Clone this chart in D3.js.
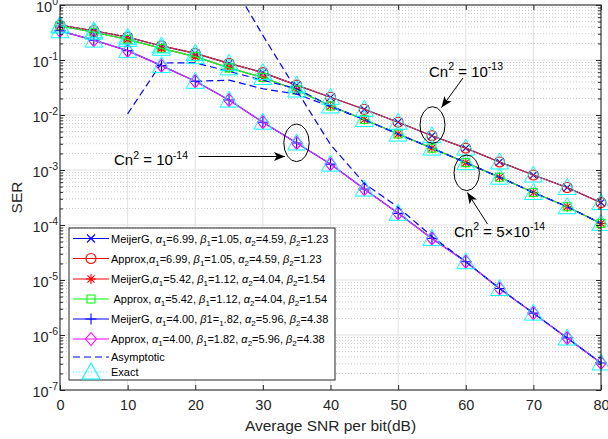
<!DOCTYPE html>
<html>
<head>
<meta charset="utf-8">
<script src="https://cdn.jsdelivr.net/npm/d3@7/dist/d3.min.js"></script>
<style>
  body { margin: 0; background: #fff; }
  svg { display: block; }
  text { font-family: "Liberation Sans", Arial, Helvetica, sans-serif; white-space: pre; }
</style>
</head>
<body>
<svg id="chart" width="608" height="439"></svg>
<script>
// ---- data -------------------------------------------------------------
const snrDb = [0, 5, 10, 15, 20, 25, 30, 35, 40, 45, 50, 55, 60, 65, 70, 75, 80];

// SER for the three turbulence strengths
const serCn13 = [0.43, 0.34, 0.26, 0.18, 0.132, 0.087, 0.059, 0.035, 0.021, 0.0127,
                 0.0074, 0.0042, 0.0025, 0.0014, 0.00081, 0.00048, 0.000255];
const serCn5e14 = [0.415, 0.32, 0.237, 0.163, 0.115, 0.072, 0.048, 0.0285, 0.0146, 0.0083,
                   0.0045, 0.0025, 0.00136, 0.00074, 0.00039, 0.000215, 0.000107];
const serCn14 = [0.34, 0.23, 0.148, 0.079, 0.041, 0.0187, 0.0074, 0.0031, 0.00128, 0.00045,
                 0.000163, 0.000057, 0.0000215, 0.000007, 0.0000025, 0.00000088, 0.00000031];

// asymptotic approximations
const asymASnr = [10, 15, 20, 25, 30, 35, 40, 45, 50, 55, 60, 65, 70, 75, 80];
const asymAVal = [0.0105, 0.088, 0.089, 0.062, 0.043, 0.03, 0.0146, 0.0083,
                  0.0045, 0.0025, 0.00136, 0.00074, 0.00039, 0.000215, 0.000107];
const asymBSnr = [20, 25, 30, 35, 40, 45, 50, 55, 60, 65, 70, 75, 80];
const asymBVal = [0.041, 0.043, 0.03, 0.024, 0.0142, 0.0082,
                  0.0045, 0.0025, 0.00136, 0.00074, 0.00039, 0.000215, 0.000107];
const asymCSnr = [25, 30, 35, 40, 45, 50, 55, 60, 65, 70, 75, 80];
const asymCVal = [3.1, 0.28, 0.028, 0.0029, 0.00057, 0.00021, 0.000062,
                  0.0000215, 0.000007, 0.0000025, 0.00000088, 0.00000031];

const xTickVals = [0, 10, 20, 30, 40, 50, 60, 70, 80];
const yExponents = [0, -1, -2, -3, -4, -5, -6, -7];

const legendLabels = [
  "MeijerG, α_{1}=6.99, β_{1}=1.05, α_{2}=4.59, β_{2}=1.23",
  "Approx,α_{1}=6.99, β_{1}=1.05, α_{2}=4.59, β_{2}=1.23",
  "MeijerG,α_{1}=5.42, β_{1}=1.12, α_{2}=4.04, β_{2}=1.54",
  " Approx, α_{1}=5.42, β_{1}=1.12, α_{2}=4.04, β_{2}=1.54",
  "MeijerG, α_{1}=4.00, β1=_{1}.82, α_{2}=5.96, β_{2}=4.38",
  "Approx, α_{1}=4.00, β_{1}=1.82, α_{2}=5.96, β_{2}=4.38",
  "Asymptotic",
  "Exact"
];

// ---- layout -----------------------------------------------------------
const plot = { left: 60, right: 601, top: 5, bottom: 390 };
const axisColor = "#262626";
const BLUE = "#0000ff", RED = "#ff0000", GREEN = "#00ff00", MAGENTA = "#ff00ff", CYAN = "#00ffff";

const svg = d3.select("#chart");
const x = d3.scaleLinear().domain([0, 80]).range([plot.left, plot.right]);
const y = d3.scaleLog().domain([1e-7, 1]).range([plot.bottom, plot.top]);

// ---- grid -------------------------------------------------------------
const grid = svg.append("g");
const minorVals = [];
for (let e = -7; e < 0; e++) for (let m = 2; m <= 9; m++) minorVals.push(m * Math.pow(10, e));
grid.selectAll(".minor").data(minorVals).enter().append("line")
  .attr("x1", plot.left).attr("x2", plot.right)
  .attr("y1", d => y(d)).attr("y2", d => y(d))
  .attr("stroke", "#bdbdbd").attr("stroke-width", 0.8).attr("stroke-dasharray", "1,2");
grid.selectAll(".majh").data(yExponents.slice(1, -1)).enter().append("line")
  .attr("x1", plot.left).attr("x2", plot.right)
  .attr("y1", d => y(Math.pow(10, d))).attr("y2", d => y(Math.pow(10, d)))
  .attr("stroke", "#e1e1e1").attr("stroke-width", 1);
grid.selectAll(".majv").data(xTickVals.slice(1, -1)).enter().append("line")
  .attr("y1", plot.top).attr("y2", plot.bottom)
  .attr("x1", d => x(d)).attr("x2", d => x(d))
  .attr("stroke", "#e1e1e1").attr("stroke-width", 1);

// ---- markers ----------------------------------------------------------
function markerPath(type) {
  switch (type) {
    case "x": return "M-4,-4L4,4M-4,4L4,-4";
    case "+": return "M-5.5,0L5.5,0M0,-5.5L0,5.5";
    case "*": return "M-5,0L5,0M0,-5L0,5M-3.6,-3.6L3.6,3.6M-3.6,3.6L3.6,-3.6";
    case "o": { const p = d3.path(); p.arc(0, 0, 5, 0, 2 * Math.PI); p.closePath(); return p.toString(); }
    case "s": return "M-4,-4H4V4H-4Z";
    case "d": return "M0,-6.5L5.5,0L0,6.5L-5.5,0Z";
    case "^": return "M0,-9L9,7H-9Z";
  }
}

const defs = svg.append("defs");
defs.append("clipPath").attr("id", "plotClip")
  .append("rect").attr("x", plot.left).attr("y", plot.top)
  .attr("width", plot.right - plot.left).attr("height", plot.bottom - plot.top);

const lineGen = d3.line().x(d => x(d[0])).y(d => y(d[1]));
const dataLayer = svg.append("g");

function drawSeries(xs, ys, color, marker, opts = {}) {
  const pts = xs.map((v, i) => [v, ys[i]]);
  dataLayer.append("path").datum(pts)
    .attr("d", lineGen).attr("fill", "none")
    .attr("clip-path", "url(#plotClip)")
    .attr("stroke", color).attr("stroke-width", opts.width || 1.2)
    .attr("stroke-dasharray", opts.dash || null);
  if (marker) {
    dataLayer.append("g").selectAll("path").data(pts).enter().append("path")
      .attr("transform", d => `translate(${x(d[0])},${y(d[1])})`)
      .attr("d", markerPath(marker)).attr("fill", "none")
      .attr("stroke", color).attr("stroke-width", opts.mwidth || 1.1);
  }
}

const curves = [
  { values: serCn13, color: BLUE, marker: "x" },
  { values: serCn13, color: RED, marker: "o" },
  { values: serCn5e14, color: RED, marker: "*" },
  { values: serCn5e14, color: GREEN, marker: "s" },
  { values: serCn14, color: BLUE, marker: "+" },
  { values: serCn14, color: MAGENTA, marker: "d" }
];
curves.forEach(c => drawSeries(snrDb, c.values, c.color, c.marker));

const asymDash = "7,4";
drawSeries(asymASnr, asymAVal, BLUE, null, { dash: asymDash });
drawSeries(asymBSnr, asymBVal, BLUE, null, { dash: asymDash });
drawSeries(asymCSnr, asymCVal, BLUE, null, { dash: asymDash });

[serCn13, serCn5e14, serCn14].forEach(v =>
  drawSeries(snrDb, v, CYAN, "^", { dash: "1,2", width: 0.8, mwidth: 1 }));

// ---- axes -------------------------------------------------------------
const axes = svg.append("g");
const styleAxis = g => {
  g.select(".domain").remove();
  g.selectAll("line").attr("stroke", axisColor);
};
axes.append("g").attr("transform", `translate(0,${plot.bottom})`)
  .call(d3.axisBottom(x).tickValues(xTickVals).tickSize(-5).tickPadding(10).tickFormat(d3.format("d")))
  .call(styleAxis)
  .call(g => g.selectAll("text").attr("fill", axisColor).attr("font-size", "14.5px")
    .attr("font-family", "Liberation Sans, Arial, sans-serif"));
axes.append("g").attr("transform", `translate(0,${plot.top})`)
  .call(d3.axisTop(x).tickValues(xTickVals).tickSize(-5).tickFormat(""))
  .call(styleAxis);
const majorY = yExponents.map(e => Math.pow(10, e));
[[d3.axisLeft, plot.left], [d3.axisRight, plot.right]].forEach(([ax, pos]) => {
  axes.append("g").attr("transform", `translate(${pos},0)`)
    .call(ax(y).tickValues(majorY).tickSize(-5).tickFormat(""))
    .call(styleAxis);
  axes.append("g").attr("transform", `translate(${pos},0)`)
    .call(ax(y).tickValues(minorVals).tickSize(-3).tickFormat(""))
    .call(styleAxis);
});
axes.append("rect").attr("x", plot.left).attr("y", plot.top)
  .attr("width", plot.right - plot.left).attr("height", plot.bottom - plot.top)
  .attr("fill", "none").attr("stroke", axisColor).attr("stroke-width", 1.1);

// y tick labels: 10^k
yExponents.forEach(e => {
  const t = axes.append("text").attr("x", plot.left - 2).attr("y", y(Math.pow(10, e)) + 7)
    .attr("text-anchor", "end").attr("fill", axisColor).attr("font-size", "14.5px");
  t.append("tspan").text("10");
  t.append("tspan").attr("dy", -7).attr("font-size", "10.5px").text(e === 0 ? "0" : "-" + Math.abs(e));
});

axes.append("text").attr("x", (plot.left + plot.right) / 2).attr("y", 431)
  .attr("text-anchor", "middle").attr("font-size", "15.5px").attr("fill", axisColor)
  .text("Average SNR per bit(dB)");
axes.append("text").attr("transform", `translate(22,${(plot.top + plot.bottom) / 2}) rotate(-90)`)
  .attr("text-anchor", "middle").attr("font-size", "15.5px").attr("fill", axisColor)
  .text("SER");

// ---- rich text helper (sub/superscripts, italic greek) ---------------
function richText(sel, str, subSize, shift) {
  const parts = str.split(/(_\{[^}]*\}|\^\{[^}]*\}|[αβ])/).filter(s => s.length);
  let carry = 0; // vertical offset still to undo from the previous script part
  parts.forEach(p => {
    const ts = sel.append("tspan");
    let off = 0;
    if (p.startsWith("_{")) {
      off = shift;
      ts.attr("font-size", subSize + "px").text(p.slice(2, -1));
    } else if (p.startsWith("^{")) {
      off = -shift;
      ts.attr("font-size", subSize + "px").text(p.slice(2, -1));
    } else {
      if (p === "α" || p === "β") ts.attr("font-style", "italic");
      ts.text(p);
    }
    if (carry + off !== 0) ts.attr("dy", carry + off);
    carry = -off;
  });
}

// ---- legend -----------------------------------------------------------
const legend = svg.append("g");
legend.append("rect").attr("x", 69).attr("y", 228).attr("width", 266).attr("height", 152)
  .attr("fill", "#fff").attr("stroke", axisColor).attr("stroke-width", 1);
const rowY = [238.5, 258.5, 279, 299, 319, 339, 357, 372];
const legendItems = curves.map(c => ({ color: c.color, marker: c.marker, dash: null }))
  .concat([{ color: BLUE, marker: null, dash: asymDash }, { color: CYAN, marker: "^", dash: "1,2" }]);
legendItems.forEach((it, i) => {
  const yy = rowY[i];
  legend.append("line").attr("x1", 73).attr("x2", 109).attr("y1", yy).attr("y2", yy)
    .attr("stroke", it.color).attr("stroke-width", it.marker === "^" ? 0.8 : 1.2)
    .attr("stroke-dasharray", it.dash);
  if (it.marker) {
    legend.append("path").attr("transform", `translate(91,${yy})`)
      .attr("d", markerPath(it.marker)).attr("fill", "none")
      .attr("stroke", it.color).attr("stroke-width", 1.1);
  }
  const t = legend.append("text").attr("x", 111).attr("y", yy + 4)
    .attr("font-size", "11px").attr("fill", "#000");
  richText(t, legendLabels[i], 8, 3);
});

// ---- annotations ------------------------------------------------------
const notes = svg.append("g");
const arrowHead = defs.append("marker").attr("id", "arrowHead")
  .attr("viewBox", "0 0 10 10").attr("refX", 10).attr("refY", 5)
  .attr("markerWidth", 11).attr("markerHeight", 11).attr("markerUnits", "userSpaceOnUse")
  .attr("orient", "auto");
arrowHead.append("path").attr("d", "M0,1L10,5L0,9L2.5,5Z").attr("fill", "#000");

function note(tx, ty, str, from, to, ell) {
  const t = notes.append("text").attr("x", tx).attr("y", ty).attr("font-size", "15px").attr("fill", "#000");
  richText(t, str, 10.5, 6.5);
  notes.append("line").attr("x1", from[0]).attr("y1", from[1]).attr("x2", to[0]).attr("y2", to[1])
    .attr("stroke", "#000").attr("stroke-width", 1).attr("marker-end", "url(#arrowHead)");
  notes.append("ellipse").attr("cx", ell[0]).attr("cy", ell[1]).attr("rx", ell[2]).attr("ry", ell[3])
    .attr("fill", "none").attr("stroke", "#000").attr("stroke-width", 1);
}
note(429, 76.5, "Cn^{2} = 10^{-13}", [463, 78], [441.5, 107.5], [432.5, 125, 12.5, 18.3]);
note(454, 236.5, "Cn^{2} = 5×10^{-14}", [487.5, 224], [467.3, 192.5], [466.7, 172.8, 12.7, 17.8]);
note(114, 165, "Cn^{2} = 10^{-14}", [198.5, 156.5], [285, 156.5], [296.5, 142.8, 12.7, 18.8]);
</script>
</body>
</html>
